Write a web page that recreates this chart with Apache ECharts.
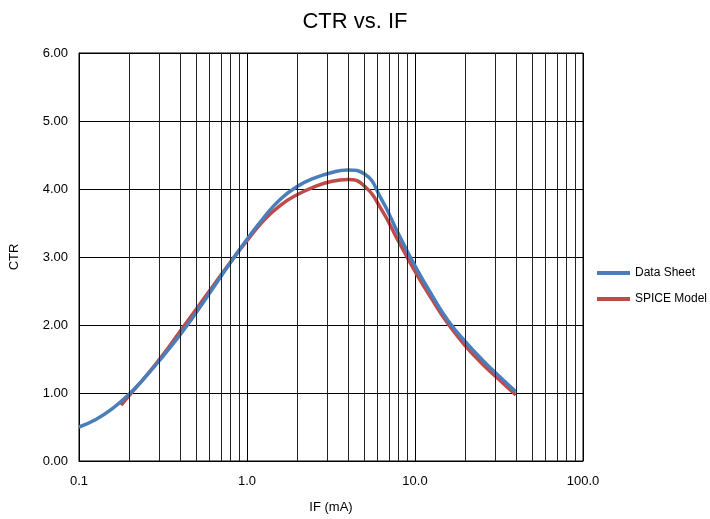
<!DOCTYPE html>
<html><head><meta charset="utf-8">
<script src="https://cdn.jsdelivr.net/npm/echarts@6/dist/echarts.min.js"></script>
<style>html,body{margin:0;padding:0;background:#fff}#c{width:710px;height:519px}</style>
</head><body><div id="c"></div>
<script>
const seriesNames = ['Data Sheet', 'SPICE Model'];
const ifDataSheet = [0.1, 0.126, 0.158, 0.2, 0.251, 0.316, 0.398, 0.501, 0.631, 0.794, 1.0, 1.26, 1.58, 2.0, 2.51, 3.16, 3.98, 5.01, 6.31, 7.94, 10, 12.6, 15.8, 20, 25.1, 31.6, 39.8];
const ctrDataSheet = [0.50, 0.61, 0.77, 0.99, 1.25, 1.54, 1.85, 2.19, 2.55, 2.91, 3.26, 3.58, 3.85, 4.04, 4.16, 4.24, 4.28, 4.22, 3.85, 3.35, 2.87, 2.44, 2.06, 1.75, 1.49, 1.25, 1.02];
const ifSpice = [0.178, 0.2, 0.251, 0.316, 0.398, 0.501, 0.631, 0.794, 1.0, 1.26, 1.58, 2.0, 2.51, 3.16, 3.98, 5.01, 6.31, 7.94, 10, 12.6, 15.8, 20, 25.1, 31.6, 39.8];
const ctrSpice = [0.82, 0.97, 1.25, 1.56, 1.90, 2.24, 2.58, 2.92, 3.24, 3.54, 3.76, 3.92, 4.03, 4.11, 4.14, 4.04, 3.70, 3.24, 2.79, 2.38, 2.01, 1.69, 1.43, 1.20, 0.97];
const minorGridX = [0.2,0.3,0.4,0.5,0.6,0.7,0.8,0.9,2,3,4,5,6,7,8,9,20,30,40,50,60,70,80,90];

const pair = (xs, ys) => xs.map((x, i) => [x, ys[i]]);
const chart = echarts.init(document.getElementById('c'), null, {renderer: 'canvas'});
const font = '"Liberation Sans", "Noto Sans", Arial, sans-serif';
chart.setOption({
  animation: false,
  textStyle: {fontFamily: font},
  title: {text: 'CTR vs. IF', left: 'center', top: 6, textStyle: {fontSize: 22, fontWeight: 'normal', color: '#000', fontFamily: font}},
  grid: {left: 77, right: 127, top: 53, bottom: 57, show: true, borderColor: '#000', borderWidth: 1, backgroundColor: 'transparent'},
  legend: {
    data: seriesNames, orient: 'vertical', left: 592, top: 262, itemWidth: 33, itemHeight: 4, itemGap: 14,
    icon: 'rect', textStyle: {fontSize: 12, color: '#000', fontFamily: font}
  },
  xAxis: {
    type: 'log', logBase: 10, min: 0.1, max: 100,
    name: 'IF (mA)', nameLocation: 'middle', nameGap: 40, nameTextStyle: {fontSize: 13, color: '#000'},
    axisLine: {show: true, lineStyle: {color: '#000', width: 1}},
    axisTick: {show: false},
    axisLabel: {color: '#000', fontSize: 13, margin: 14, formatter: v => Number(v).toFixed(1)},
    splitLine: {show: true, lineStyle: {color: '#000', width: 1}}
  },
  yAxis: {
    type: 'value', min: 0, max: 6, interval: 1,
    name: 'CTR', nameLocation: 'middle', nameGap: 58, nameTextStyle: {fontSize: 13, color: '#000'},
    axisLine: {show: true, lineStyle: {color: '#000', width: 1}},
    axisTick: {show: false},
    axisLabel: {color: '#000', fontSize: 13, margin: 11, formatter: v => Number(v).toFixed(2)},
    splitLine: {show: true, lineStyle: {color: '#000', width: 1}}
  },
  series: [
    {
      name: 'grid', type: 'line', data: [], z: 1, silent: true,
      markLine: {silent: true, symbol: 'none', label: {show: false}, animation: false,
        lineStyle: {color: '#222', width: 1, type: 'solid'},
        data: minorGridX.map(v => ({xAxis: v}))}
    },
    {
      name: seriesNames[1], type: 'line', data: pair(ifSpice, ctrSpice), smooth: 0.5, showSymbol: false, z: 3,
      lineStyle: {color: '#be4b48', width: 3.5}, itemStyle: {color: '#be4b48'}
    },
    {
      name: seriesNames[0], type: 'line', data: pair(ifDataSheet, ctrDataSheet), smooth: 0.5, showSymbol: false, z: 4,
      lineStyle: {color: '#4a7ebb', width: 3.5}, itemStyle: {color: '#4a7ebb'}
    }
  ]
});
</script></body></html>
